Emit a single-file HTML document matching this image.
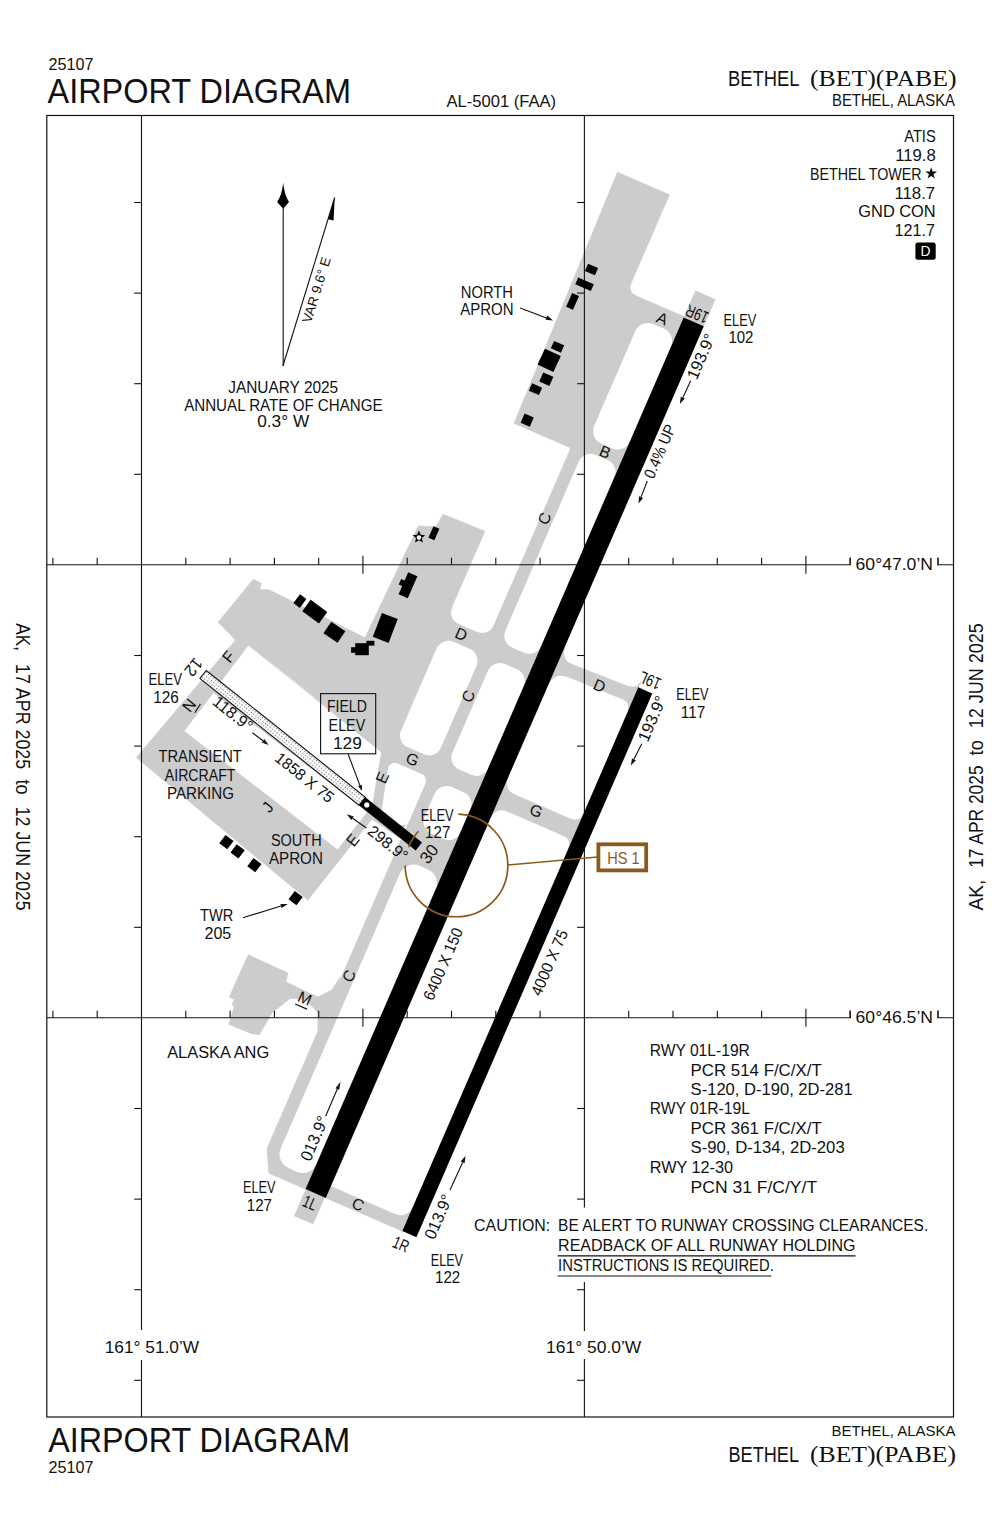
<!DOCTYPE html>
<html><head><meta charset="utf-8"><style>
html,body{margin:0;padding:0;background:#fff;}
svg{display:block;}
</style></head><body>
<svg width="1000" height="1533" viewBox="0 0 1000 1533">
<rect x="0" y="0" width="1000" height="1533" fill="#fff"/>
<polygon points="617.5,172.3 669.4,194.7 627.2,292.0 684.1,316.7 618.2,468.5 514.1,423.3" fill="#cccccc" stroke="#cccccc" stroke-width="0.7"/>
<rect x="-11.0" y="-979.5" width="22.0" height="29.5" rx="0" ry="0" fill="#cccccc" transform="translate(315.7 1193.5) rotate(23.45)"/>
<rect x="-11.0" y="-0.5" width="21.0" height="29.8" rx="0" ry="0" fill="#cccccc" transform="translate(315.7 1193.5) rotate(23.45)"/>
<polygon points="571.1,447.5 267.1,1148.4 268.9,1173.2 403.8,1231.7 408.7,1220.2 310.6,1177.7 624.6,453.8 587.9,437.9 581.7,452.1" fill="#cccccc" stroke="#cccccc" stroke-width="0.7"/>
<polygon points="554.2,671.3 631.7,702.7 637.3,689.9 559.4,659.4" fill="#cccccc" stroke="#cccccc" stroke-width="0.7"/>
<polygon points="495.7,806.1 572.4,839.4 579.6,822.9 502.9,789.6" fill="#cccccc" stroke="#cccccc" stroke-width="0.7"/>
<polygon points="443.1,514.3 484.8,531.2 446.6,619.1 488.8,637.4 435.8,759.5 381.2,752.3 290.0,677.6 248.4,645.6 235.6,640.0 218.2,622.2 253.3,579.3 261.1,583.2 259.8,589.7 268.9,589.7 365.0,637.8 418.4,526.0 436.0,527.0" fill="#cccccc" stroke="#cccccc" stroke-width="0.7"/>
<polygon points="235.6,640.0 248.4,645.6 381.2,752.3 435.8,759.5 399.3,838.0 372.0,819.0 307.9,900.1 136.4,757.6" fill="#cccccc" stroke="#cccccc" stroke-width="0.7"/>
<polygon points="248.2,954.8 287.8,973.0 285.9,982.0 317.7,997.0 332.0,990.0 339.8,977.5 338.0,985.1 318.1,1031.0 317.7,1012.6 306.0,999.6 290.4,998.3 272.2,1012.6 259.2,1034.7 251.0,1033.4 228.7,1024.3 234.5,1006.1 231.9,1004.8 234.5,999.6 229.3,997.0" fill="#cccccc" stroke="#cccccc" stroke-width="0.7"/>
<polygon points="630.8,283.7 627.2,292.0 635.4,295.6 633.9,294.7 632.5,293.6 631.5,292.2 630.6,290.6 630.2,288.9 630.0,287.2 630.2,285.4 630.8,283.7" fill="#cccccc" stroke="#cccccc" stroke-width="0.7"/>
<polygon points="451.7,607.2 446.6,619.1 458.5,624.3 456.3,623.1 454.3,621.4 452.7,619.4 451.6,617.2 450.9,614.7 450.7,612.2 451.0,609.6 451.7,607.2" fill="#cccccc" stroke="#cccccc" stroke-width="0.7"/>
<polygon points="564.6,647.4 559.4,659.4 571.3,664.5 569.1,663.3 567.1,661.6 565.6,659.6 564.4,657.4 563.7,654.9 563.5,652.4 563.8,649.9 564.6,647.4" fill="#cccccc" stroke="#cccccc" stroke-width="0.7"/>
<polygon points="549.0,683.2 554.2,671.3 566.1,676.5 563.7,675.7 561.2,675.4 558.6,675.6 556.2,676.3 553.9,677.5 551.9,679.0 550.3,681.0 549.0,683.2" fill="#cccccc" stroke="#cccccc" stroke-width="0.7"/>
<polygon points="640.9,681.6 637.3,689.9 629.0,686.3 630.7,686.8 632.5,687.0 634.2,686.9 635.9,686.4 637.5,685.6 638.9,684.5 640.0,683.2 640.9,681.6" fill="#cccccc" stroke="#cccccc" stroke-width="0.7"/>
<polygon points="628.1,711.0 631.7,702.7 623.4,699.1 625.0,700.0 626.3,701.1 627.4,702.5 628.2,704.1 628.7,705.8 628.9,707.5 628.7,709.3 628.1,711.0" fill="#cccccc" stroke="#cccccc" stroke-width="0.7"/>
<polygon points="507.7,778.6 502.9,789.6 513.9,794.4 511.8,793.3 510.0,791.7 508.6,789.9 507.5,787.8 506.9,785.5 506.7,783.2 506.9,780.9 507.7,778.6" fill="#cccccc" stroke="#cccccc" stroke-width="0.7"/>
<polygon points="490.9,817.2 495.7,806.1 506.7,810.9 504.5,810.2 502.1,809.9 499.8,810.1 497.5,810.8 495.4,811.8 493.6,813.3 492.1,815.1 490.9,817.2" fill="#cccccc" stroke="#cccccc" stroke-width="0.7"/>
<polygon points="583.2,814.6 579.6,822.9 571.3,819.3 573.0,819.9 574.7,820.1 576.5,819.9 578.2,819.4 579.8,818.6 581.2,817.5 582.3,816.2 583.2,814.6" fill="#cccccc" stroke="#cccccc" stroke-width="0.7"/>
<polygon points="568.8,847.7 572.4,839.4 564.2,835.8 565.7,836.7 567.0,837.8 568.1,839.2 568.9,840.8 569.4,842.5 569.6,844.2 569.4,846.0 568.8,847.7" fill="#cccccc" stroke="#cccccc" stroke-width="0.7"/>
<polygon points="412.6,1207.8 407.5,1219.7 395.5,1214.5 398.0,1215.3 400.5,1215.6 403.0,1215.4 405.5,1214.7 407.8,1213.5 409.7,1211.9 411.4,1210.0 412.6,1207.8" fill="#cccccc" stroke="#cccccc" stroke-width="0.7"/>
<polygon points="493.9,625.5 488.8,637.4 476.8,632.3 479.3,633.1 481.8,633.3 484.3,633.1 486.8,632.4 489.1,631.3 491.1,629.7 492.7,627.8 493.9,625.5" fill="#cccccc" stroke="#cccccc" stroke-width="0.7"/>
<rect x="-50.0" y="-932.0" width="39.0" height="130.5" rx="14" ry="14" fill="#ffffff" transform="translate(315.7 1193.5) rotate(23.45)"/>
<rect x="-50.0" y="-789.0" width="39.0" height="210.0" rx="13" ry="13" fill="#ffffff" transform="translate(315.7 1193.5) rotate(23.45)"/>
<rect x="-50.0" y="-561.0" width="39.0" height="115.0" rx="13" ry="13" fill="#ffffff" transform="translate(315.7 1193.5) rotate(23.45)"/>
<rect x="-50.0" y="-427.0" width="39.0" height="51.0" rx="13" ry="13" fill="#ffffff" transform="translate(315.7 1193.5) rotate(23.45)"/>
<rect x="-50.0" y="-342.0" width="39.0" height="329.5" rx="15" ry="15" fill="#ffffff" transform="translate(315.7 1193.5) rotate(23.45)"/>
<rect x="-106.0" y="-561.0" width="43.5" height="115.0" rx="13" ry="13" fill="#ffffff" transform="translate(315.7 1193.5) rotate(23.45)"/>
<path d="M394.8,770.0 L419.1,780.5 L402.8,818.1 L388.5,812.0 Z" fill="#fff" stroke="#fff" stroke-width="14" stroke-linejoin="round"/>
<polygon points="184.4,731.0 213.5,693.0 367.1,812.2 337.5,849.5" fill="#ffffff"/>
<polygon points="220.8,682.1 248.4,645.6 381.2,752.3 372.4,803.4" fill="#ffffff"/>
<text x="48.5" y="69.5" font-size="17.4" text-anchor="start" fill="#111" font-family='"Liberation Sans", sans-serif' textLength="45.0" lengthAdjust="spacingAndGlyphs">25107</text>
<text x="47.5" y="103.3" font-size="35.6" text-anchor="start" fill="#111" font-family='"Liberation Sans", sans-serif' textLength="303.5" lengthAdjust="spacingAndGlyphs">AIRPORT DIAGRAM</text>
<text x="446.5" y="107.0" font-size="16.6" text-anchor="start" fill="#111" font-family='"Liberation Sans", sans-serif' textLength="109.5" lengthAdjust="spacingAndGlyphs">AL-5001 (FAA)</text>
<text x="728.0" y="85.5" font-size="22.8" text-anchor="start" fill="#111" font-family='"Liberation Sans", sans-serif' textLength="71.5" lengthAdjust="spacingAndGlyphs">BETHEL</text>
<text x="810.0" y="85.5" font-size="22.3" text-anchor="start" fill="#111" font-family='"Liberation Serif", serif' textLength="146.5" lengthAdjust="spacingAndGlyphs">(BET)(PABE)</text>
<text x="832.0" y="105.9" font-size="15.9" text-anchor="start" fill="#111" font-family='"Liberation Sans", sans-serif' textLength="123.0" lengthAdjust="spacingAndGlyphs">BETHEL, ALASKA</text>
<text x="48.2" y="1451.6" font-size="34.2" text-anchor="start" fill="#111" font-family='"Liberation Sans", sans-serif' textLength="302.0" lengthAdjust="spacingAndGlyphs">AIRPORT DIAGRAM</text>
<text x="48.5" y="1473.0" font-size="17.4" text-anchor="start" fill="#111" font-family='"Liberation Sans", sans-serif' textLength="45.0" lengthAdjust="spacingAndGlyphs">25107</text>
<text x="831.5" y="1435.8" font-size="15.4" text-anchor="start" fill="#111" font-family='"Liberation Sans", sans-serif' textLength="124.0" lengthAdjust="spacingAndGlyphs">BETHEL, ALASKA</text>
<text x="728.5" y="1462.4" font-size="22.4" text-anchor="start" fill="#111" font-family='"Liberation Sans", sans-serif' textLength="70.5" lengthAdjust="spacingAndGlyphs">BETHEL</text>
<text x="810.0" y="1462.4" font-size="22.3" text-anchor="start" fill="#111" font-family='"Liberation Serif", serif' textLength="146.0" lengthAdjust="spacingAndGlyphs">(BET)(PABE)</text>
<text x="16.3" y="623.3" font-size="20.2" text-anchor="start" fill="#111" font-family='"Liberation Sans", sans-serif' textLength="27.7" lengthAdjust="spacingAndGlyphs" transform="rotate(90.00 16.3 623.3)">AK,</text>
<text x="16.3" y="664.0" font-size="20.2" text-anchor="start" fill="#111" font-family='"Liberation Sans", sans-serif' textLength="105.2" lengthAdjust="spacingAndGlyphs" transform="rotate(90.00 16.3 664.0)">17 APR 2025</text>
<text x="16.3" y="779.5" font-size="20.2" text-anchor="start" fill="#111" font-family='"Liberation Sans", sans-serif' textLength="15.2" lengthAdjust="spacingAndGlyphs" transform="rotate(90.00 16.3 779.5)">to</text>
<text x="16.3" y="806.7" font-size="20.2" text-anchor="start" fill="#111" font-family='"Liberation Sans", sans-serif' textLength="103.9" lengthAdjust="spacingAndGlyphs" transform="rotate(90.00 16.3 806.7)">12 JUN 2025</text>
<text x="983.4" y="910.6" font-size="19.8" text-anchor="start" fill="#111" font-family='"Liberation Sans", sans-serif' textLength="30.9" lengthAdjust="spacingAndGlyphs" transform="rotate(-90.00 983.4 910.6)">AK,</text>
<text x="983.4" y="867.8" font-size="19.8" text-anchor="start" fill="#111" font-family='"Liberation Sans", sans-serif' textLength="102.4" lengthAdjust="spacingAndGlyphs" transform="rotate(-90.00 983.4 867.8)">17 APR 2025</text>
<text x="983.4" y="755.4" font-size="19.8" text-anchor="start" fill="#111" font-family='"Liberation Sans", sans-serif' textLength="15.2" lengthAdjust="spacingAndGlyphs" transform="rotate(-90.00 983.4 755.4)">to</text>
<text x="983.4" y="728.3" font-size="19.8" text-anchor="start" fill="#111" font-family='"Liberation Sans", sans-serif' textLength="105.0" lengthAdjust="spacingAndGlyphs" transform="rotate(-90.00 983.4 728.3)">12 JUN 2025</text>
<rect x="46.8" y="115.5" width="906.7" height="1301.5" fill="none" stroke="#111" stroke-width="1.2"/>
<line x1="141.5" y1="115.5" x2="141.5" y2="1417.0" stroke="#111" stroke-width="1.1"/>
<line x1="134.2" y1="202.5" x2="141.5" y2="202.5" stroke="#111" stroke-width="1.1"/>
<line x1="134.2" y1="293.1" x2="141.5" y2="293.1" stroke="#111" stroke-width="1.1"/>
<line x1="134.2" y1="383.7" x2="141.5" y2="383.7" stroke="#111" stroke-width="1.1"/>
<line x1="134.2" y1="474.3" x2="141.5" y2="474.3" stroke="#111" stroke-width="1.1"/>
<line x1="134.2" y1="655.5" x2="141.5" y2="655.5" stroke="#111" stroke-width="1.1"/>
<line x1="134.2" y1="746.1" x2="141.5" y2="746.1" stroke="#111" stroke-width="1.1"/>
<line x1="134.2" y1="836.7" x2="141.5" y2="836.7" stroke="#111" stroke-width="1.1"/>
<line x1="134.2" y1="927.3" x2="141.5" y2="927.3" stroke="#111" stroke-width="1.1"/>
<line x1="134.2" y1="1108.5" x2="141.5" y2="1108.5" stroke="#111" stroke-width="1.1"/>
<line x1="134.2" y1="1199.1" x2="141.5" y2="1199.1" stroke="#111" stroke-width="1.1"/>
<line x1="134.2" y1="1289.7" x2="141.5" y2="1289.7" stroke="#111" stroke-width="1.1"/>
<line x1="134.2" y1="1380.3" x2="141.5" y2="1380.3" stroke="#111" stroke-width="1.1"/>
<line x1="584.4" y1="115.5" x2="584.4" y2="1207.5" stroke="#111" stroke-width="1.1"/>
<line x1="584.4" y1="1282.0" x2="584.4" y2="1417.0" stroke="#111" stroke-width="1.1"/>
<line x1="577.1" y1="202.5" x2="584.4" y2="202.5" stroke="#111" stroke-width="1.1"/>
<line x1="577.1" y1="293.1" x2="584.4" y2="293.1" stroke="#111" stroke-width="1.1"/>
<line x1="577.1" y1="383.7" x2="584.4" y2="383.7" stroke="#111" stroke-width="1.1"/>
<line x1="577.1" y1="474.3" x2="584.4" y2="474.3" stroke="#111" stroke-width="1.1"/>
<line x1="577.1" y1="655.5" x2="584.4" y2="655.5" stroke="#111" stroke-width="1.1"/>
<line x1="577.1" y1="746.1" x2="584.4" y2="746.1" stroke="#111" stroke-width="1.1"/>
<line x1="577.1" y1="836.7" x2="584.4" y2="836.7" stroke="#111" stroke-width="1.1"/>
<line x1="577.1" y1="927.3" x2="584.4" y2="927.3" stroke="#111" stroke-width="1.1"/>
<line x1="577.1" y1="1108.5" x2="584.4" y2="1108.5" stroke="#111" stroke-width="1.1"/>
<line x1="577.1" y1="1199.1" x2="584.4" y2="1199.1" stroke="#111" stroke-width="1.1"/>
<line x1="577.1" y1="1289.7" x2="584.4" y2="1289.7" stroke="#111" stroke-width="1.1"/>
<line x1="577.1" y1="1380.3" x2="584.4" y2="1380.3" stroke="#111" stroke-width="1.1"/>
<line x1="46.8" y1="564.7" x2="953.5" y2="564.7" stroke="#111" stroke-width="1.1"/>
<line x1="52.9" y1="557.7" x2="52.9" y2="564.7" stroke="#111" stroke-width="1.1"/>
<line x1="97.2" y1="557.7" x2="97.2" y2="564.7" stroke="#111" stroke-width="1.1"/>
<line x1="185.8" y1="557.7" x2="185.8" y2="564.7" stroke="#111" stroke-width="1.1"/>
<line x1="230.1" y1="557.7" x2="230.1" y2="564.7" stroke="#111" stroke-width="1.1"/>
<line x1="274.4" y1="557.7" x2="274.4" y2="564.7" stroke="#111" stroke-width="1.1"/>
<line x1="318.7" y1="557.7" x2="318.7" y2="564.7" stroke="#111" stroke-width="1.1"/>
<line x1="362.9" y1="555.7" x2="362.9" y2="573.7" stroke="#111" stroke-width="1.1"/>
<line x1="407.2" y1="557.7" x2="407.2" y2="564.7" stroke="#111" stroke-width="1.1"/>
<line x1="451.5" y1="557.7" x2="451.5" y2="564.7" stroke="#111" stroke-width="1.1"/>
<line x1="495.8" y1="557.7" x2="495.8" y2="564.7" stroke="#111" stroke-width="1.1"/>
<line x1="540.1" y1="557.7" x2="540.1" y2="564.7" stroke="#111" stroke-width="1.1"/>
<line x1="628.7" y1="557.7" x2="628.7" y2="564.7" stroke="#111" stroke-width="1.1"/>
<line x1="673.0" y1="557.7" x2="673.0" y2="564.7" stroke="#111" stroke-width="1.1"/>
<line x1="717.3" y1="557.7" x2="717.3" y2="564.7" stroke="#111" stroke-width="1.1"/>
<line x1="761.6" y1="557.7" x2="761.6" y2="564.7" stroke="#111" stroke-width="1.1"/>
<line x1="805.9" y1="555.7" x2="805.9" y2="573.7" stroke="#111" stroke-width="1.1"/>
<line x1="850.1" y1="557.7" x2="850.1" y2="564.7" stroke="#111" stroke-width="1.1"/>
<line x1="894.4" y1="557.7" x2="894.4" y2="564.7" stroke="#111" stroke-width="1.1"/>
<line x1="938.0" y1="557.7" x2="938.0" y2="564.7" stroke="#111" stroke-width="1.1"/>
<line x1="46.8" y1="1017.7" x2="953.5" y2="1017.7" stroke="#111" stroke-width="1.1"/>
<line x1="52.9" y1="1010.7" x2="52.9" y2="1017.7" stroke="#111" stroke-width="1.1"/>
<line x1="97.2" y1="1010.7" x2="97.2" y2="1017.7" stroke="#111" stroke-width="1.1"/>
<line x1="185.8" y1="1010.7" x2="185.8" y2="1017.7" stroke="#111" stroke-width="1.1"/>
<line x1="230.1" y1="1010.7" x2="230.1" y2="1017.7" stroke="#111" stroke-width="1.1"/>
<line x1="274.4" y1="1010.7" x2="274.4" y2="1017.7" stroke="#111" stroke-width="1.1"/>
<line x1="318.7" y1="1010.7" x2="318.7" y2="1017.7" stroke="#111" stroke-width="1.1"/>
<line x1="362.9" y1="1008.7" x2="362.9" y2="1026.7" stroke="#111" stroke-width="1.1"/>
<line x1="407.2" y1="1010.7" x2="407.2" y2="1017.7" stroke="#111" stroke-width="1.1"/>
<line x1="451.5" y1="1010.7" x2="451.5" y2="1017.7" stroke="#111" stroke-width="1.1"/>
<line x1="495.8" y1="1010.7" x2="495.8" y2="1017.7" stroke="#111" stroke-width="1.1"/>
<line x1="540.1" y1="1010.7" x2="540.1" y2="1017.7" stroke="#111" stroke-width="1.1"/>
<line x1="628.7" y1="1010.7" x2="628.7" y2="1017.7" stroke="#111" stroke-width="1.1"/>
<line x1="673.0" y1="1010.7" x2="673.0" y2="1017.7" stroke="#111" stroke-width="1.1"/>
<line x1="717.3" y1="1010.7" x2="717.3" y2="1017.7" stroke="#111" stroke-width="1.1"/>
<line x1="761.6" y1="1010.7" x2="761.6" y2="1017.7" stroke="#111" stroke-width="1.1"/>
<line x1="805.9" y1="1008.7" x2="805.9" y2="1026.7" stroke="#111" stroke-width="1.1"/>
<line x1="850.1" y1="1010.7" x2="850.1" y2="1017.7" stroke="#111" stroke-width="1.1"/>
<line x1="894.4" y1="1010.7" x2="894.4" y2="1017.7" stroke="#111" stroke-width="1.1"/>
<line x1="938.0" y1="1010.7" x2="938.0" y2="1017.7" stroke="#111" stroke-width="1.1"/>
<rect x="-11.0" y="-950.0" width="22.0" height="950.0" rx="0" ry="0" fill="#000" transform="translate(315.7 1193.5) rotate(23.45)"/>
<rect x="94.5" y="-592.7" width="15.3" height="592.7" rx="0" ry="0" fill="#000" transform="translate(315.7 1193.5) rotate(23.45)"/>
<defs><pattern id="dots" width="3" height="3" patternUnits="userSpaceOnUse" patternTransform="rotate(38.55)"><rect width="3" height="3" fill="#fff"/><circle cx="1.5" cy="1.5" r="0.65" fill="#777"/></pattern></defs>
<polygon points="206.2,670.5 365.4,797.3 359.0,805.3 199.9,678.5" fill="url(#dots)" stroke="#111" stroke-width="1.1"/>
<polygon points="365.4,797.3 422.0,842.5 415.7,850.4 359.0,805.3" fill="#000"/>
<circle cx="366.8" cy="804.9" r="2.6" fill="#fff"/>
<rect x="-5.5" y="-4.0" width="11.0" height="8.0" fill="#000" transform="translate(591.5 269.5) rotate(23.5)"/>
<rect x="-8.5" y="-3.8" width="17.0" height="7.5" fill="#000" transform="translate(584.5 284.3) rotate(23.5)"/>
<rect x="-3.8" y="-7.5" width="7.5" height="15.0" fill="#000" transform="translate(572.6 301.5) rotate(23.5)"/>
<rect x="-5.5" y="-4.0" width="11.0" height="8.0" fill="#000" transform="translate(557.5 346.8) rotate(23.5)"/>
<rect x="-8.8" y="-8.8" width="17.5" height="17.5" fill="#000" transform="translate(549.2 360.4) rotate(25.0)"/>
<rect x="-5.5" y="-5.0" width="11.0" height="10.0" fill="#000" transform="translate(546.3 379.2) rotate(23.5)"/>
<rect x="-5.5" y="-4.0" width="11.0" height="8.0" fill="#000" transform="translate(535.5 389.2) rotate(23.5)"/>
<rect x="-5.0" y="-5.0" width="10.0" height="10.0" fill="#000" transform="translate(527.2 420.2) rotate(23.5)"/>
<rect x="-4.0" y="-5.5" width="8.0" height="11.0" fill="#000" transform="translate(299.9 601.1) rotate(37.0)"/>
<rect x="-10.3" y="-7.1" width="20.6" height="14.2" fill="#000" transform="translate(314.8 611.6) rotate(36.0)"/>
<rect x="-8.5" y="-7.0" width="17.0" height="14.0" fill="#000" transform="translate(334.4 632.3) rotate(34.0)"/>
<rect x="-6.8" y="-6.0" width="13.6" height="12.0" fill="#000" transform="translate(362.0 649.2) rotate(0.0)"/>
<rect x="-2.5" y="-2.8" width="5.0" height="5.6" fill="#000" transform="translate(353.6 650.0) rotate(0.0)"/>
<rect x="-4.0" y="-2.4" width="8.0" height="4.8" fill="#000" transform="translate(370.4 643.2) rotate(0.0)"/>
<rect x="-8.4" y="-12.8" width="16.9" height="25.5" fill="#000" transform="translate(385.2 628.0) rotate(21.0)"/>
<rect x="-5.0" y="-12.0" width="10.0" height="24.0" fill="#000" transform="translate(408.0 585.2) rotate(23.5)"/>
<rect x="-2.5" y="-3.0" width="5.0" height="6.0" fill="#000" transform="translate(402.2 582.8) rotate(23.5)"/>
<rect x="-3.2" y="-6.2" width="6.5" height="12.5" fill="#000" transform="translate(433.9 533.2) rotate(23.5)"/>
<rect x="-5.0" y="-5.2" width="10.0" height="10.4" fill="#000" transform="translate(226.4 842.1) rotate(37.0)"/>
<rect x="-5.0" y="-5.2" width="10.0" height="10.4" fill="#000" transform="translate(237.6 851.4) rotate(37.0)"/>
<rect x="-5.0" y="-5.2" width="10.0" height="10.4" fill="#000" transform="translate(254.4 865.2) rotate(37.0)"/>
<rect x="-5.0" y="-5.2" width="10.0" height="10.4" fill="#000" transform="translate(295.6 898.2) rotate(37.0)"/>
<polygon points="418.9,530.6 420.7,534.8 425.2,535.2 421.8,538.1 422.8,542.5 418.9,540.2 415.0,542.5 416.0,538.1 412.6,535.2 417.1,534.8" fill="#000"/>
<circle cx="418.9" cy="537.6" r="2.3" fill="#fff"/>
<line x1="283.2" y1="207.0" x2="283.2" y2="366.0" stroke="#111" stroke-width="1.1"/>
<path d="M283.2,182.6 Q284.3,195 289,202 L283.2,208.7 L277.1,202 Q282.1,195 283.2,182.6 Z" fill="#000"/>
<line x1="282.9" y1="366.0" x2="334.7" y2="197.5" stroke="#111" stroke-width="1.1"/>
<path d="M334.7,197.5 L333.6,220.5 L328.2,219.2 Z" fill="#000"/>
<text x="0" y="4.64" font-size="13.5" text-anchor="middle" fill="#111" font-family='"Liberation Sans", sans-serif' textLength="68.0" lengthAdjust="spacingAndGlyphs" transform="translate(316.5 290.0) rotate(-72.75)">VAR 9.6° E</text>
<text x="283.2" y="393.3" font-size="16" text-anchor="middle" fill="#111" font-family='"Liberation Sans", sans-serif' textLength="110.0" lengthAdjust="spacingAndGlyphs">JANUARY 2025</text>
<text x="283.4" y="410.8" font-size="16" text-anchor="middle" fill="#111" font-family='"Liberation Sans", sans-serif' textLength="198.5" lengthAdjust="spacingAndGlyphs">ANNUAL RATE OF CHANGE</text>
<text x="283.2" y="426.5" font-size="16" text-anchor="middle" fill="#111" font-family='"Liberation Sans", sans-serif' textLength="52.0" lengthAdjust="spacingAndGlyphs">0.3° W</text>
<text x="935.7" y="142.4" font-size="15.7" text-anchor="end" fill="#111" font-family='"Liberation Sans", sans-serif' textLength="31.5" lengthAdjust="spacingAndGlyphs">ATIS</text>
<text x="935.7" y="161.3" font-size="15.7" text-anchor="end" fill="#111" font-family='"Liberation Sans", sans-serif' textLength="40.5" lengthAdjust="spacingAndGlyphs">119.8</text>
<text x="921.6" y="179.8" font-size="15.7" text-anchor="end" fill="#111" font-family='"Liberation Sans", sans-serif' textLength="111.6" lengthAdjust="spacingAndGlyphs">BETHEL TOWER</text>
<path d="M931.2,167.3 L932.6,171.6 L937.1,171.6 L933.5,174.3 L934.8,178.6 L931.2,176 L927.6,178.6 L928.9,174.3 L925.3,171.6 L929.8,171.6 Z" fill="#111"/>
<text x="935.2" y="198.6" font-size="15.7" text-anchor="end" fill="#111" font-family='"Liberation Sans", sans-serif' textLength="40.8" lengthAdjust="spacingAndGlyphs">118.7</text>
<text x="935.7" y="217.1" font-size="15.7" text-anchor="end" fill="#111" font-family='"Liberation Sans", sans-serif' textLength="77.4" lengthAdjust="spacingAndGlyphs">GND CON</text>
<text x="935.0" y="235.5" font-size="15.7" text-anchor="end" fill="#111" font-family='"Liberation Sans", sans-serif' textLength="40.5" lengthAdjust="spacingAndGlyphs">121.7</text>
<rect x="915.4" y="242.6" width="20.3" height="17.1" rx="2.5" fill="#000"/>
<text x="925.6" y="256.3" font-size="14" text-anchor="middle" fill="#fff" font-family='"Liberation Sans", sans-serif' textLength="10.0" lengthAdjust="spacingAndGlyphs">D</text>
<text x="460.8" y="297.8" font-size="16.6" text-anchor="start" fill="#111" font-family='"Liberation Sans", sans-serif' textLength="52.2" lengthAdjust="spacingAndGlyphs">NORTH</text>
<text x="460.2" y="314.6" font-size="16.6" text-anchor="start" fill="#111" font-family='"Liberation Sans", sans-serif' textLength="53.4" lengthAdjust="spacingAndGlyphs">APRON</text>
<line x1="520.2" y1="308.0" x2="549.0" y2="319.1" stroke="#111" stroke-width="1.1"/>
<path d="M553,320.6 L545.5,319.8 L547.3,315.4 Z" fill="#111"/>
<text x="723.6" y="325.6" font-size="15.7" text-anchor="start" fill="#111" font-family='"Liberation Sans", sans-serif' textLength="32.6" lengthAdjust="spacingAndGlyphs">ELEV</text>
<text x="728.4" y="342.6" font-size="15.7" text-anchor="start" fill="#111" font-family='"Liberation Sans", sans-serif' textLength="25.0" lengthAdjust="spacingAndGlyphs">102</text>
<text x="676.3" y="700.4" font-size="15.7" text-anchor="start" fill="#111" font-family='"Liberation Sans", sans-serif' textLength="32.2" lengthAdjust="spacingAndGlyphs">ELEV</text>
<text x="680.8" y="717.9" font-size="15.7" text-anchor="start" fill="#111" font-family='"Liberation Sans", sans-serif' textLength="24.5" lengthAdjust="spacingAndGlyphs">117</text>
<text x="243.0" y="1193.4" font-size="15.7" text-anchor="start" fill="#111" font-family='"Liberation Sans", sans-serif' textLength="32.4" lengthAdjust="spacingAndGlyphs">ELEV</text>
<text x="246.8" y="1211.2" font-size="15.7" text-anchor="start" fill="#111" font-family='"Liberation Sans", sans-serif' textLength="25.2" lengthAdjust="spacingAndGlyphs">127</text>
<text x="430.8" y="1265.6" font-size="15.7" text-anchor="start" fill="#111" font-family='"Liberation Sans", sans-serif' textLength="32.2" lengthAdjust="spacingAndGlyphs">ELEV</text>
<text x="435.0" y="1283.2" font-size="15.7" text-anchor="start" fill="#111" font-family='"Liberation Sans", sans-serif' textLength="25.2" lengthAdjust="spacingAndGlyphs">122</text>
<text x="148.4" y="684.8" font-size="15.7" text-anchor="start" fill="#111" font-family='"Liberation Sans", sans-serif' textLength="33.6" lengthAdjust="spacingAndGlyphs">ELEV</text>
<text x="153.2" y="703.2" font-size="15.7" text-anchor="start" fill="#111" font-family='"Liberation Sans", sans-serif' textLength="25.6" lengthAdjust="spacingAndGlyphs">126</text>
<text x="420.7" y="820.8" font-size="15.7" text-anchor="start" fill="#111" font-family='"Liberation Sans", sans-serif' textLength="33.0" lengthAdjust="spacingAndGlyphs">ELEV</text>
<text x="425.1" y="838.4" font-size="15.7" text-anchor="start" fill="#111" font-family='"Liberation Sans", sans-serif' textLength="25.3" lengthAdjust="spacingAndGlyphs">127</text>
<text x="0" y="5.85" font-size="17" text-anchor="middle" fill="#111" font-family='"Liberation Sans", sans-serif' textLength="23.0" lengthAdjust="spacingAndGlyphs" transform="translate(697.0 314.0) rotate(203.45)">19R</text>
<text x="0" y="5.85" font-size="17" text-anchor="middle" fill="#111" font-family='"Liberation Sans", sans-serif' textLength="22.0" lengthAdjust="spacingAndGlyphs" transform="translate(650.0 680.5) rotate(203.45)">19L</text>
<text x="0" y="5.85" font-size="17" text-anchor="middle" fill="#111" font-family='"Liberation Sans", sans-serif' textLength="14.0" lengthAdjust="spacingAndGlyphs" transform="translate(310.0 1203.0) rotate(23.45)">1L</text>
<text x="0" y="5.85" font-size="17" text-anchor="middle" fill="#111" font-family='"Liberation Sans", sans-serif' textLength="16.0" lengthAdjust="spacingAndGlyphs" transform="translate(401.0 1244.2) rotate(23.45)">1R</text>
<text x="0" y="5.85" font-size="17" text-anchor="middle" fill="#111" font-family='"Liberation Sans", sans-serif' textLength="18.0" lengthAdjust="spacingAndGlyphs" transform="translate(193.6 667.2) rotate(128.70)">12</text>
<text x="0" y="5.85" font-size="17" text-anchor="middle" fill="#111" font-family='"Liberation Sans", sans-serif' textLength="19.0" lengthAdjust="spacingAndGlyphs" transform="translate(429.0 853.8) rotate(-51.30)">30</text>
<text x="0" y="5.68" font-size="16.5" text-anchor="middle" fill="#111" font-family='"Liberation Sans", sans-serif' textLength="48.0" lengthAdjust="spacingAndGlyphs" transform="translate(701.0 356.5) rotate(-66.55)">193.9°</text>
<text x="0" y="5.68" font-size="16.5" text-anchor="middle" fill="#111" font-family='"Liberation Sans", sans-serif' textLength="48.0" lengthAdjust="spacingAndGlyphs" transform="translate(652.0 718.6) rotate(-66.55)">193.9°</text>
<text x="0" y="5.68" font-size="16.5" text-anchor="middle" fill="#111" font-family='"Liberation Sans", sans-serif' textLength="47.0" lengthAdjust="spacingAndGlyphs" transform="translate(314.3 1138.4) rotate(-66.55)">013.9°</text>
<text x="0" y="5.68" font-size="16.5" text-anchor="middle" fill="#111" font-family='"Liberation Sans", sans-serif' textLength="47.0" lengthAdjust="spacingAndGlyphs" transform="translate(438.4 1216.8) rotate(-66.55)">013.9°</text>
<text x="0" y="5.50" font-size="16" text-anchor="middle" fill="#111" font-family='"Liberation Sans", sans-serif' textLength="57.0" lengthAdjust="spacingAndGlyphs" transform="translate(659.7 451.3) rotate(-66.55)">0.4% UP</text>
<text x="0" y="5.50" font-size="16" text-anchor="middle" fill="#111" font-family='"Liberation Sans", sans-serif' textLength="46.0" lengthAdjust="spacingAndGlyphs" transform="translate(232.8 713.6) rotate(38.70)">118.9°</text>
<text x="0" y="5.50" font-size="16" text-anchor="middle" fill="#111" font-family='"Liberation Sans", sans-serif' textLength="46.0" lengthAdjust="spacingAndGlyphs" transform="translate(388.0 843.2) rotate(38.70)">298.9°</text>
<text x="0" y="5.50" font-size="16" text-anchor="middle" fill="#111" font-family='"Liberation Sans", sans-serif' textLength="77.0" lengthAdjust="spacingAndGlyphs" transform="translate(443.0 964.0) rotate(-66.55)">6400 X 150</text>
<text x="0" y="5.50" font-size="16" text-anchor="middle" fill="#111" font-family='"Liberation Sans", sans-serif' textLength="70.0" lengthAdjust="spacingAndGlyphs" transform="translate(549.3 962.7) rotate(-66.55)">4000 X 75</text>
<text x="0" y="5.50" font-size="16" text-anchor="middle" fill="#111" font-family='"Liberation Sans", sans-serif' textLength="70.0" lengthAdjust="spacingAndGlyphs" transform="translate(304.6 777.5) rotate(38.70)">1858 X 75</text>
<line x1="690.7" y1="380.7" x2="682.8" y2="397.7" stroke="#111" stroke-width="1.1"/>
<path d="M679.8,404.0 L680.8,396.7 L684.8,398.6 Z" fill="#111"/>
<line x1="641.8" y1="743.7" x2="633.9" y2="759.3" stroke="#111" stroke-width="1.1"/>
<path d="M630.8,765.6 L632.0,758.4 L635.9,760.3 Z" fill="#111"/>
<line x1="647.3" y1="481.0" x2="641.0" y2="497.1" stroke="#111" stroke-width="1.1"/>
<path d="M638.5,503.6 L639.0,496.3 L643.1,497.9 Z" fill="#111"/>
<line x1="325.6" y1="1116.3" x2="337.3" y2="1089.0" stroke="#111" stroke-width="1.1"/>
<path d="M340.5,1081.7 L339.2,1089.8 L335.5,1088.3 Z" fill="#111"/>
<line x1="450.0" y1="1190.0" x2="462.6" y2="1162.4" stroke="#111" stroke-width="1.1"/>
<path d="M465.5,1156.0 L464.6,1163.3 L460.6,1161.5 Z" fill="#111"/>
<line x1="252.4" y1="732.8" x2="263.0" y2="740.7" stroke="#111" stroke-width="1.1"/>
<path d="M268.6,744.9 L261.7,742.5 L264.3,738.9 Z" fill="#111"/>
<line x1="366.4" y1="828.0" x2="352.5" y2="818.2" stroke="#111" stroke-width="1.1"/>
<path d="M346.8,814.2 L353.8,816.4 L351.3,820.0 Z" fill="#111"/>
<text x="0" y="5.50" font-size="16" text-anchor="middle" fill="#111" font-family='"Liberation Sans", sans-serif' transform="translate(662.4 318.5) rotate(23.45)">A</text>
<text x="0" y="5.50" font-size="16" text-anchor="middle" fill="#111" font-family='"Liberation Sans", sans-serif' transform="translate(605.0 452.0) rotate(23.45)">B</text>
<text x="0" y="5.50" font-size="16" text-anchor="middle" fill="#111" font-family='"Liberation Sans", sans-serif' transform="translate(544.6 518.4) rotate(-66.55)">C</text>
<text x="0" y="5.50" font-size="16" text-anchor="middle" fill="#111" font-family='"Liberation Sans", sans-serif' transform="translate(468.2 696.2) rotate(-66.55)">C</text>
<text x="0" y="5.50" font-size="16" text-anchor="middle" fill="#111" font-family='"Liberation Sans", sans-serif' transform="translate(349.0 976.0) rotate(-66.55)">C</text>
<text x="0" y="5.50" font-size="16" text-anchor="middle" fill="#111" font-family='"Liberation Sans", sans-serif' transform="translate(358.0 1204.4) rotate(23.45)">C</text>
<text x="0" y="5.50" font-size="16" text-anchor="middle" fill="#111" font-family='"Liberation Sans", sans-serif' transform="translate(461.3 634.3) rotate(23.45)">D</text>
<text x="0" y="5.50" font-size="16" text-anchor="middle" fill="#111" font-family='"Liberation Sans", sans-serif' transform="translate(599.6 685.7) rotate(23.45)">D</text>
<text x="0" y="5.50" font-size="16" text-anchor="middle" fill="#111" font-family='"Liberation Sans", sans-serif' transform="translate(412.4 759.5) rotate(23.45)">G</text>
<text x="0" y="5.50" font-size="16" text-anchor="middle" fill="#111" font-family='"Liberation Sans", sans-serif' transform="translate(536.2 810.9) rotate(23.45)">G</text>
<text x="0" y="5.50" font-size="16" text-anchor="middle" fill="#111" font-family='"Liberation Sans", sans-serif' transform="translate(382.4 777.6) rotate(-66.55)">E</text>
<text x="0" y="5.50" font-size="16" text-anchor="middle" fill="#111" font-family='"Liberation Sans", sans-serif' transform="translate(352.8 840.2) rotate(-51.30)">E</text>
<text x="0" y="5.50" font-size="16" text-anchor="middle" fill="#111" font-family='"Liberation Sans", sans-serif' transform="translate(228.4 656.8) rotate(-51.30)">F</text>
<text x="0" y="5.50" font-size="16" text-anchor="middle" fill="#111" font-family='"Liberation Sans", sans-serif' transform="translate(189.3 705.5) rotate(128.70)">N</text>
<line x1="200.4" y1="704.0" x2="194.8" y2="712.8" stroke="#111" stroke-width="1.2"/>
<text x="0" y="5.50" font-size="16" text-anchor="middle" fill="#111" font-family='"Liberation Sans", sans-serif' transform="translate(267.6 807.2) rotate(-51.30)">J</text>
<text x="0" y="5.50" font-size="16" text-anchor="middle" fill="#111" font-family='"Liberation Sans", sans-serif' transform="translate(304.7 998.3) rotate(23.45)">M</text>
<line x1="295.2" y1="1004.0" x2="307.0" y2="1009.1" stroke="#111" stroke-width="1.3"/>
<rect x="320.6" y="693.6" width="55.1" height="60.2" fill="none" stroke="#111" stroke-width="1.1"/>
<text x="326.9" y="711.8" font-size="17.3" text-anchor="start" fill="#111" font-family='"Liberation Sans", sans-serif' textLength="40.0" lengthAdjust="spacingAndGlyphs">FIELD</text>
<text x="328.6" y="730.5" font-size="17.3" text-anchor="start" fill="#111" font-family='"Liberation Sans", sans-serif' textLength="36.6" lengthAdjust="spacingAndGlyphs">ELEV</text>
<text x="332.9" y="749.2" font-size="17.3" text-anchor="start" fill="#111" font-family='"Liberation Sans", sans-serif' textLength="28.9" lengthAdjust="spacingAndGlyphs">129</text>
<line x1="348.2" y1="754.3" x2="359.9" y2="785.4" stroke="#111" stroke-width="1.1"/>
<path d="M362.0,791.0 L358.0,786.1 L361.8,784.7 Z" fill="#111"/>
<line x1="367.8" y1="803.5" x2="366.5" y2="806.0" stroke="#111" stroke-width="0"/>
<text x="158.5" y="761.5" font-size="16.7" text-anchor="start" fill="#111" font-family='"Liberation Sans", sans-serif' textLength="83.3" lengthAdjust="spacingAndGlyphs">TRANSIENT</text>
<text x="164.8" y="780.5" font-size="16.7" text-anchor="start" fill="#111" font-family='"Liberation Sans", sans-serif' textLength="70.7" lengthAdjust="spacingAndGlyphs">AIRCRAFT</text>
<text x="167.0" y="798.5" font-size="16.7" text-anchor="start" fill="#111" font-family='"Liberation Sans", sans-serif' textLength="67.0" lengthAdjust="spacingAndGlyphs">PARKING</text>
<text x="270.9" y="846.2" font-size="16.7" text-anchor="start" fill="#111" font-family='"Liberation Sans", sans-serif' textLength="50.7" lengthAdjust="spacingAndGlyphs">SOUTH</text>
<text x="268.9" y="864.4" font-size="16.7" text-anchor="start" fill="#111" font-family='"Liberation Sans", sans-serif' textLength="54.0" lengthAdjust="spacingAndGlyphs">APRON</text>
<text x="200.0" y="920.9" font-size="16.7" text-anchor="start" fill="#111" font-family='"Liberation Sans", sans-serif' textLength="33.2" lengthAdjust="spacingAndGlyphs">TWR</text>
<text x="204.5" y="939.1" font-size="16.7" text-anchor="start" fill="#111" font-family='"Liberation Sans", sans-serif' textLength="26.7" lengthAdjust="spacingAndGlyphs">205</text>
<line x1="242.9" y1="917.7" x2="281.1" y2="906.0" stroke="#111" stroke-width="1.1"/>
<path d="M287.8,904.0 L281.7,908.1 L280.5,903.9 Z" fill="#111"/>
<text x="167.2" y="1057.6" font-size="16.8" text-anchor="start" fill="#111" font-family='"Liberation Sans", sans-serif' textLength="102.0" lengthAdjust="spacingAndGlyphs">ALASKA ANG</text>
<path d="M458.3,814.2 A51.3,51.3 0 1 1 405.2,865.5" fill="none" stroke="#8a5a1c" stroke-width="1.7"/>
<path d="M408.6,847.1 A51.3,51.3 0 0 1 418.4,831.2" fill="none" stroke="#8a5a1c" stroke-width="1.7"/>
<line x1="507.8" y1="865.0" x2="598.0" y2="857.0" stroke="#8a5a1c" stroke-width="1.7"/>
<rect x="598.4" y="844.3" width="47.8" height="26.1" fill="#fff" stroke="#8a5a1c" stroke-width="3.8"/>
<text x="607.2" y="863.7" font-size="17" text-anchor="start" fill="#8a5a1c" font-family='"Liberation Sans", sans-serif' textLength="32.4" lengthAdjust="spacingAndGlyphs">HS 1</text>
<text x="649.7" y="1056.4" font-size="16" text-anchor="start" fill="#111" font-family='"Liberation Sans", sans-serif' textLength="100.2" lengthAdjust="spacingAndGlyphs">RWY 01L-19R</text>
<text x="690.6" y="1075.7" font-size="16" text-anchor="start" fill="#111" font-family='"Liberation Sans", sans-serif' textLength="131.1" lengthAdjust="spacingAndGlyphs">PCR 514 F/C/X/T</text>
<text x="690.6" y="1095.3" font-size="16" text-anchor="start" fill="#111" font-family='"Liberation Sans", sans-serif' textLength="162.1" lengthAdjust="spacingAndGlyphs">S-120, D-190, 2D-281</text>
<text x="649.7" y="1114.3" font-size="16" text-anchor="start" fill="#111" font-family='"Liberation Sans", sans-serif' textLength="100.2" lengthAdjust="spacingAndGlyphs">RWY 01R-19L</text>
<text x="690.6" y="1133.9" font-size="16" text-anchor="start" fill="#111" font-family='"Liberation Sans", sans-serif' textLength="131.1" lengthAdjust="spacingAndGlyphs">PCR 361 F/C/X/T</text>
<text x="690.6" y="1153.4" font-size="16" text-anchor="start" fill="#111" font-family='"Liberation Sans", sans-serif' textLength="154.1" lengthAdjust="spacingAndGlyphs">S-90, D-134, 2D-203</text>
<text x="649.7" y="1173.0" font-size="16" text-anchor="start" fill="#111" font-family='"Liberation Sans", sans-serif' textLength="83.4" lengthAdjust="spacingAndGlyphs">RWY 12-30</text>
<text x="690.6" y="1192.5" font-size="16" text-anchor="start" fill="#111" font-family='"Liberation Sans", sans-serif' textLength="126.5" lengthAdjust="spacingAndGlyphs">PCN 31 F/C/Y/T</text>
<text x="474.1" y="1231.1" font-size="17.4" text-anchor="start" fill="#111" font-family='"Liberation Sans", sans-serif' textLength="76.1" lengthAdjust="spacingAndGlyphs">CAUTION:</text>
<text x="558.1" y="1231.1" font-size="17.4" text-anchor="start" fill="#111" font-family='"Liberation Sans", sans-serif' textLength="370.1" lengthAdjust="spacingAndGlyphs">BE ALERT TO RUNWAY CROSSING CLEARANCES.</text>
<text x="558.1" y="1251.3" font-size="17.4" text-anchor="start" fill="#111" font-family='"Liberation Sans", sans-serif' textLength="297.4" lengthAdjust="spacingAndGlyphs">READBACK OF ALL RUNWAY HOLDING</text>
<text x="558.1" y="1271.2" font-size="17.4" text-anchor="start" fill="#111" font-family='"Liberation Sans", sans-serif' textLength="215.7" lengthAdjust="spacingAndGlyphs">INSTRUCTIONS IS REQUIRED.</text>
<line x1="557.6" y1="1255.9" x2="855.5" y2="1255.9" stroke="#111" stroke-width="1.2"/>
<line x1="557.6" y1="1276.0" x2="771.4" y2="1276.0" stroke="#111" stroke-width="1.2"/>
<rect x="851" y="555" width="86" height="20" fill="#fff"/>
<rect x="851" y="1008" width="86" height="20" fill="#fff"/>
<line x1="850.2" y1="557.6" x2="850.2" y2="564.7" stroke="#111" stroke-width="1.1"/>
<line x1="938.0" y1="557.6" x2="938.0" y2="564.7" stroke="#111" stroke-width="1.1"/>
<line x1="850.2" y1="1010.6" x2="850.2" y2="1017.7" stroke="#111" stroke-width="1.1"/>
<line x1="938.0" y1="1010.6" x2="938.0" y2="1017.7" stroke="#111" stroke-width="1.1"/>
<text x="855.6" y="569.7" font-size="17" text-anchor="start" fill="#111" font-family='"Liberation Sans", sans-serif' textLength="77.4" lengthAdjust="spacingAndGlyphs">60°47.0’N</text>
<text x="855.6" y="1022.7" font-size="17" text-anchor="start" fill="#111" font-family='"Liberation Sans", sans-serif' textLength="77.4" lengthAdjust="spacingAndGlyphs">60°46.5’N</text>
<rect x="100" y="1330" width="104" height="30" fill="#fff"/>
<rect x="542" y="1331" width="104" height="28" fill="#fff"/>
<text x="104.7" y="1352.5" font-size="16.7" text-anchor="start" fill="#111" font-family='"Liberation Sans", sans-serif' textLength="94.5" lengthAdjust="spacingAndGlyphs">161° 51.0’W</text>
<text x="546.1" y="1352.5" font-size="16.7" text-anchor="start" fill="#111" font-family='"Liberation Sans", sans-serif' textLength="95.2" lengthAdjust="spacingAndGlyphs">161° 50.0’W</text>
</svg></body></html>
